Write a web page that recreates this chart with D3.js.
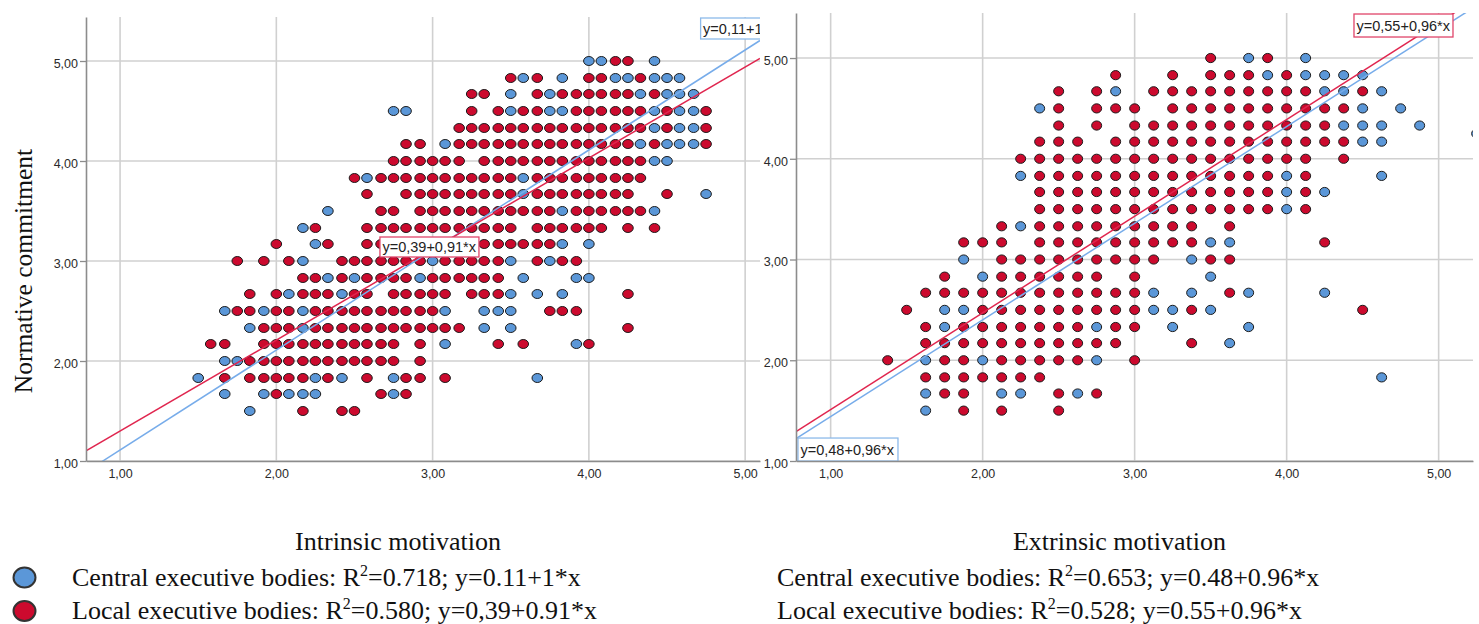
<!DOCTYPE html>
<html>
<head>
<meta charset="utf-8">
<script src="https://cdn.jsdelivr.net/npm/d3@7"></script>
<style>
    body { margin: 0; background: #fff; }
    svg { display: block; background: #fff; }
</style>
</head>
<body>
<svg id="chart" width="1479" height="624"></svg>
<script>
// tick values shared by both panels
var xTicks = [1, 2, 3, 4, 5];
var yTicks = [1, 2, 3, 4, 5];

// each row: [normative commitment, [motivation scores at that level]]
var intrinsicCentral = [
    [5.00, [4.00, 4.08, 4.42]],
    [4.83, [3.58, 3.83, 4.17, 4.25, 4.42, 4.50, 4.58]],
    [4.67, [3.50, 3.75, 4.33, 4.50, 4.58, 4.67]],
    [4.50, [2.75, 2.83, 3.50, 3.75, 3.83, 4.42, 4.58, 4.67]],
    [4.33, [4.42, 4.58, 4.67]],
    [4.17, [3.08, 4.33, 4.50, 4.58, 4.67]],
    [4.00, [4.42, 4.50]],
    [3.83, [2.58, 3.58]],
    [3.67, [3.58, 4.75]],
    [3.50, [2.33, 3.83, 4.42]],
    [3.33, [2.17]],
    [3.17, [2.25, 3.83, 4.00]],
    [3.00, [2.17, 3.00, 3.50, 3.75]],
    [2.83, [2.33, 2.50, 2.92, 3.58, 3.92, 4.00]],
    [2.67, [2.08, 2.42, 3.50, 3.67, 3.83]],
    [2.50, [1.67, 1.92, 2.17, 3.08, 3.33, 3.42, 3.50]],
    [2.33, [1.83, 2.17, 3.33, 3.50]],
    [2.17, [3.08, 3.92]],
    [2.00, [1.67, 1.75]],
    [1.83, [1.50, 2.25, 2.42, 2.75, 3.67]],
    [1.67, [1.67, 1.92, 2.08, 2.17, 2.25, 2.75]],
    [1.50, [1.83]]
];

var intrinsicLocal = [
    [5.00, [4.17, 4.25]],
    [4.83, [3.50, 3.67, 4.00, 4.08, 4.33]],
    [4.67, [3.25, 3.33, 3.67, 3.83, 3.92, 4.00, 4.08, 4.17, 4.25, 4.42]],
    [4.50, [3.25, 3.42, 3.58, 3.67, 3.92, 4.00, 4.08, 4.17, 4.25, 4.33, 4.50, 4.75]],
    [4.33, [3.17, 3.25, 3.33, 3.42, 3.50, 3.58, 3.67, 3.75, 3.83, 3.92, 4.00, 4.08, 4.17, 4.25, 4.33, 4.50, 4.75]],
    [4.17, [2.83, 2.92, 3.17, 3.25, 3.33, 3.42, 3.50, 3.58, 3.67, 3.75, 3.83, 3.92, 4.00, 4.08, 4.17, 4.25, 4.42, 4.75]],
    [4.00, [2.75, 2.83, 2.92, 3.00, 3.08, 3.17, 3.33, 3.42, 3.50, 3.58, 3.67, 3.75, 3.83, 3.92, 4.00, 4.08, 4.17, 4.25, 4.33]],
    [3.83, [2.50, 2.67, 2.75, 2.83, 2.92, 3.00, 3.08, 3.17, 3.25, 3.33, 3.42, 3.50, 3.67, 3.75, 3.83, 3.92, 4.00, 4.08, 4.17, 4.25, 4.33]],
    [3.67, [2.58, 2.83, 2.92, 3.00, 3.08, 3.17, 3.25, 3.33, 3.42, 3.50, 3.67, 3.75, 3.83, 3.92, 4.00, 4.08, 4.17, 4.25, 4.50]],
    [3.50, [2.67, 2.75, 2.92, 3.00, 3.08, 3.17, 3.25, 3.33, 3.42, 3.50, 3.58, 3.67, 3.75, 3.92, 4.00, 4.08, 4.17, 4.25, 4.33]],
    [3.33, [2.25, 2.58, 2.67, 2.75, 2.83, 2.92, 3.00, 3.08, 3.17, 3.25, 3.33, 3.42, 3.50, 3.67, 3.75, 3.83, 3.92, 4.00, 4.08, 4.25, 4.42]],
    [3.17, [2.00, 2.33, 2.58, 2.67, 2.75, 2.83, 2.92, 3.00, 3.08, 3.17, 3.25, 3.33, 3.42, 3.50, 3.58, 3.67, 3.75]],
    [3.00, [1.75, 1.92, 2.08, 2.42, 2.50, 2.58, 2.67, 2.75, 2.83, 2.92, 3.08, 3.17, 3.25, 3.33, 3.42, 3.67, 3.83, 3.92]],
    [2.83, [2.17, 2.25, 2.42, 2.58, 2.67, 2.75, 2.83, 3.00, 3.08, 3.17, 3.25, 3.33, 3.42]],
    [2.67, [1.83, 2.00, 2.17, 2.25, 2.33, 2.50, 2.58, 2.75, 2.83, 2.92, 3.00, 3.08, 3.25, 3.33, 3.42, 4.25]],
    [2.50, [1.75, 1.83, 2.00, 2.08, 2.25, 2.33, 2.42, 2.50, 2.58, 2.67, 2.75, 2.83, 2.92, 3.00, 3.75, 3.83, 3.92]],
    [2.33, [1.92, 2.00, 2.08, 2.25, 2.33, 2.42, 2.50, 2.58, 2.67, 2.75, 2.83, 2.92, 3.00, 3.08, 3.17, 4.25]],
    [2.17, [1.58, 1.67, 1.92, 2.00, 2.08, 2.17, 2.25, 2.33, 2.42, 2.50, 2.58, 2.67, 2.75, 2.92, 3.42, 3.58, 4.00]],
    [2.00, [1.83, 1.92, 2.00, 2.08, 2.17, 2.25, 2.33, 2.42, 2.50, 2.58, 2.67, 2.75, 2.92]],
    [1.83, [1.67, 1.83, 1.92, 2.00, 2.08, 2.17, 2.33, 2.58, 2.83, 2.92, 3.08]],
    [1.67, [2.00, 2.67, 2.83]],
    [1.50, [2.17, 2.42, 2.50]]
];

var extrinsicCentral = [
    [5.00, [3.75, 4.125]],
    [4.83, [3.875, 4.125, 4.25, 4.375, 4.5]],
    [4.67, [2.875, 4.25, 4.375, 4.625]],
    [4.50, [2.375, 4.5, 4.75]],
    [4.33, [4.375, 4.5, 4.625, 4.875]],
    [4.25, [5.25]],
    [4.17, [4.5, 4.625]],
    [3.83, [2.25, 4.0, 4.625]],
    [3.67, [4.0, 4.25]],
    [3.50, [4.0]],
    [3.33, [2.25]],
    [3.17, [3.5, 3.625]],
    [3.00, [1.875, 3.375]],
    [2.83, [2.0, 3.5]],
    [2.67, [3.125, 3.375, 3.75, 4.25]],
    [2.50, [1.75, 1.875, 3.125, 3.25, 3.5]],
    [2.33, [1.75, 2.75, 3.25, 3.75]],
    [2.17, [3.625]],
    [2.00, [1.625, 2.0, 2.75]],
    [1.83, [4.625]],
    [1.67, [1.625, 2.125, 2.25, 2.625]],
    [1.50, [1.625]]
];

var extrinsicLocal = [
    [5.00, [3.5, 3.875]],
    [4.83, [2.875, 3.25, 3.5, 3.625, 3.75, 4.0]],
    [4.67, [2.5, 2.75, 3.125, 3.25, 3.375, 3.5, 3.625, 3.75, 3.875, 4.0, 4.125, 4.5]],
    [4.50, [2.5, 2.75, 2.875, 3.0, 3.25, 3.375, 3.5, 3.625, 3.75, 3.875, 4.0, 4.125, 4.25, 4.375]],
    [4.33, [2.5, 2.75, 3.0, 3.125, 3.25, 3.375, 3.5, 3.625, 3.75, 3.875, 4.0, 4.125, 4.25]],
    [4.17, [2.375, 2.5, 2.625, 2.875, 3.0, 3.125, 3.25, 3.375, 3.5, 3.625, 3.75, 3.875, 4.0, 4.125, 4.25, 4.375]],
    [4.00, [2.25, 2.375, 2.5, 2.625, 2.75, 2.875, 3.0, 3.125, 3.25, 3.375, 3.5, 3.625, 3.75, 3.875, 4.0, 4.125, 4.375]],
    [3.83, [2.375, 2.5, 2.625, 2.75, 2.875, 3.0, 3.125, 3.25, 3.375, 3.5, 3.625, 3.75, 3.875, 4.125]],
    [3.67, [2.375, 2.5, 2.625, 2.75, 2.875, 3.0, 3.125, 3.25, 3.375, 3.5, 3.625, 3.75, 3.875, 4.125]],
    [3.50, [2.375, 2.5, 2.625, 2.75, 2.875, 3.0, 3.125, 3.25, 3.375, 3.5, 3.625, 3.75, 3.875, 4.125]],
    [3.33, [2.125, 2.375, 2.5, 2.625, 2.75, 2.875, 3.0, 3.125, 3.25, 3.375, 3.625]],
    [3.17, [1.875, 2.0, 2.125, 2.375, 2.5, 2.625, 2.75, 2.875, 3.0, 3.125, 3.25, 3.375, 4.25]],
    [3.00, [2.125, 2.25, 2.375, 2.5, 2.625, 2.75, 2.875, 3.0, 3.125, 3.5, 3.625]],
    [2.83, [1.75, 2.125, 2.25, 2.375, 2.5, 2.625, 2.75, 3.0]],
    [2.67, [1.625, 1.75, 1.875, 2.0, 2.125, 2.25, 2.375, 2.5, 2.625, 2.75, 2.875, 3.0, 3.625]],
    [2.50, [1.5, 2.0, 2.125, 2.25, 2.375, 2.5, 2.625, 2.75, 2.875, 3.0, 3.375, 4.5]],
    [2.33, [1.625, 1.875, 2.0, 2.125, 2.25, 2.375, 2.5, 2.625, 2.875, 3.0]],
    [2.17, [1.625, 1.75, 1.875, 2.0, 2.125, 2.25, 2.375, 2.5, 2.625, 2.75, 2.875, 3.375]],
    [2.00, [1.375, 1.75, 1.875, 2.125, 2.25, 2.375, 2.5, 2.625, 3.0]],
    [1.83, [1.625, 1.75, 1.875, 2.0, 2.125, 2.25, 2.375]],
    [1.67, [1.75, 1.875, 2.5, 2.75]],
    [1.50, [1.875, 2.125, 2.5]]
];

// regression fits: intercept, slope
var intrinsicFits = [[0.11, 1.00], [0.39, 0.91]];
var extrinsicFits = [[0.48, 0.96], [0.55, 0.96]];
var intrinsicFitLabels = ['y=0,11+1*x', 'y=0,39+0,91*x'];
var extrinsicFitLabels = ['y=0,48+0,96*x', 'y=0,55+0,96*x'];

var axisTitles = ['Intrinsic motivation', 'Extrinsic motivation'];
var yTitle = 'Normative commitment';
var groupNames = ['Central executive bodies', 'Local executive bodies'];
var intrinsicR2 = ['0.718', '0.580'];
var extrinsicR2 = ['0.653', '0.528'];
var intrinsicEq = ['y=0.11+1*x', 'y=0,39+0.91*x'];
var extrinsicEq = ['y=0.48+0.96*x', 'y=0.55+0.96*x'];

var groupColors = ['#5b97d8', '#cc0a2e'];
var lineColors = ['#77acea', '#e0264f'];
var boxColors = ['#8dbaea', '#e0456a'];

var fmt = function (d) { return d3.format('.2f')(d).replace('.', ','); };

var svg = d3.select('#chart');

/**
 * One scatter panel with its grid, points, fit lines and axes
 */
function ScatterPanel(svg, cfg) {
    var self = this;
    self.svg = svg;
    self.cfg = cfg;
}

ScatterPanel.prototype.init = function () {
    var self = this;
    var c = self.cfg;

    self.x = d3.scaleLinear().domain(c.xDomain).range([c.left, c.right]);
    self.y = d3.scaleLinear().domain(c.yDomain).range([c.bottom, c.top]);

    self.g = self.svg.append('g').attr('class', 'panel-' + c.id);

    self.g.append('clipPath')
        .attr('id', c.id + '-clip')
        .append('rect')
        .attr('x', c.left)
        .attr('y', c.top)
        .attr('width', c.right - c.left)
        .attr('height', c.bottom - c.top);

    self.drawGrid();
    self.drawPoints();
    self.drawFits();
    self.drawAxes();
    self.drawLegend();
};

ScatterPanel.prototype.drawGrid = function () {
    var self = this;
    var c = self.cfg;
    var grid = self.g.append('g').attr('class', 'grid');

    grid.selectAll('.vgrid').data(xTicks).enter().append('line')
        .attr('class', 'vgrid')
        .attr('x1', function (d) { return self.x(d); })
        .attr('x2', function (d) { return self.x(d); })
        .attr('y1', c.top)
        .attr('y2', c.bottom)
        .attr('stroke', '#d0d0d0')
        .attr('stroke-width', 1.6);

    grid.selectAll('.hgrid').data(yTicks).enter().append('line')
        .attr('class', 'hgrid')
        .attr('x1', c.left)
        .attr('x2', c.right)
        .attr('y1', function (d) { return self.y(d); })
        .attr('y2', function (d) { return self.y(d); })
        .attr('stroke', '#d0d0d0')
        .attr('stroke-width', 1.6);
};

ScatterPanel.prototype.drawPoints = function () {
    var self = this;
    var c = self.cfg;
    var pts = [];
    c.series.forEach(function (rows, i) {
        rows.forEach(function (row) {
            row[1].forEach(function (x) {
                pts.push({x: x, y: row[0], group: i});
            });
        });
    });

    self.plot = self.g.append('g').attr('clip-path', 'url(#' + c.id + '-clip)');

    self.plot.selectAll('ellipse').data(pts).enter().append('ellipse')
        .attr('cx', function (d) { return self.x(d.x); })
        .attr('cy', function (d) { return self.y(d.y); })
        .attr('rx', c.rx)
        .attr('ry', c.ry)
        .attr('fill', function (d) { return groupColors[d.group]; })
        .attr('stroke', '#1c1c1c')
        .attr('stroke-width', 1);
};

ScatterPanel.prototype.drawFits = function () {
    var self = this;
    var c = self.cfg;
    var x0 = c.xDomain[0], x1 = c.xDomain[1];
    var line = d3.line()
        .x(function (d) { return self.x(d[0]); })
        .y(function (d) { return self.y(d[1]); });

    self.plot.selectAll('.fit').data(c.fits).enter().append('path')
        .attr('class', 'fit')
        .attr('d', function (f) { return line([[x0, f[0] + f[1] * x0], [x1, f[0] + f[1] * x1]]); })
        .attr('fill', 'none')
        .attr('stroke', function (f, i) { return lineColors[i]; })
        .attr('stroke-width', 1.5);

    // equation boxes, anchored in data space
    var box = self.plot.selectAll('.fitbox').data(c.boxes).enter().append('g')
        .attr('class', 'fitbox')
        .attr('transform', function (b) { return 'translate(' + self.x(b.x) + ',' + self.y(b.y) + ')'; });

    box.append('rect')
        .attr('width', function (b) { return b.w; })
        .attr('height', function (b) { return b.h; })
        .attr('fill', '#fff')
        .attr('stroke', function (b) { return boxColors[b.group]; })
        .attr('stroke-width', 1.3);

    box.append('text')
        .attr('x', 2.5)
        .attr('y', function (b) { return b.h / 2 + 5.2; })
        .attr('font-family', 'Liberation Sans, Arial, sans-serif')
        .attr('font-size', 14.5)
        .attr('fill', '#222')
        .text(function (b) { return c.fitLabels[b.group]; });
};

ScatterPanel.prototype.drawAxes = function () {
    var self = this;
    var c = self.cfg;

    var yAxis = d3.axisLeft(self.y)
        .tickValues(yTicks)
        .tickFormat(fmt)
        .tickSize(6)
        .tickSizeOuter(0)
        .tickPadding(2);

    var xAxis = d3.axisBottom(self.x)
        .tickValues(xTicks)
        .tickFormat(fmt)
        .tickSize(0)
        .tickSizeOuter(0)
        .tickPadding(8);

    var ya = self.g.append('g')
        .attr('transform', 'translate(' + c.left + ',0)')
        .call(yAxis);
    var xa = self.g.append('g')
        .attr('transform', 'translate(0,' + c.bottom + ')')
        .call(xAxis);

    [ya, xa].forEach(function (a) {
        a.select('.domain').attr('stroke', '#8c8c8c').attr('stroke-width', 1.6);
        a.selectAll('.tick line').attr('stroke', '#8c8c8c').attr('stroke-width', 1.3);
        a.selectAll('.tick text')
            .attr('font-family', 'Liberation Sans, Arial, sans-serif')
            .attr('font-size', 12.5)
            .attr('fill', '#2a2a2a');
    });
    ya.selectAll('.tick text').attr('dy', '0.5em');
};

ScatterPanel.prototype.drawLegend = function () {
    var self = this;
    var c = self.cfg;
    var serif = 'Liberation Serif, Times New Roman, serif';

    self.g.append('text')
        .attr('x', (c.left + c.right) / 2 + c.titleShift)
        .attr('y', 550)
        .attr('text-anchor', 'middle')
        .attr('font-family', serif)
        .attr('font-size', 26)
        .attr('fill', '#111')
        .text(c.title);

    var rows = self.g.selectAll('.legend-row').data(groupNames).enter().append('text')
        .attr('class', 'legend-row')
        .attr('x', c.legendX)
        .attr('y', function (d, i) { return 585.5 + i * 33; })
        .attr('font-family', serif)
        .attr('font-size', 26)
        .attr('fill', '#111');

    rows.append('tspan').text(function (d) { return d + ': R'; });
    rows.append('tspan').attr('dy', -10).attr('font-size', 16).text('2');
    rows.append('tspan').attr('dy', 10)
        .text(function (d, i) { return '=' + c.r2[i] + '; ' + c.eq[i]; });

    if (c.markers) {
        self.g.selectAll('.legend-marker').data(groupNames).enter().append('ellipse')
            .attr('class', 'legend-marker')
            .attr('cx', 24.5)
            .attr('cy', function (d, i) { return 577.5 + i * 33.5; })
            .attr('rx', 11)
            .attr('ry', 10)
            .attr('fill', function (d, i) { return groupColors[i]; })
            .attr('stroke', '#333')
            .attr('stroke-width', 2);
    }
};

var left = new ScatterPanel(svg, {
    id: 'intrinsic',
    left: 86, right: 760, top: 17, bottom: 461,
    xDomain: [0.782, 5.095], yDomain: [1, 5.44],
    rx: 5.3, ry: 4.5,
    series: [intrinsicCentral, intrinsicLocal],
    fits: intrinsicFits,
    fitLabels: intrinsicFitLabels,
    boxes: [
        {group: 1, x: 2.663, y: 3.24, w: 99, h: 20},
        {group: 0, x: 4.715, y: 5.43, w: 100, h: 21}
    ],
    title: axisTitles[0], titleShift: -25,
    legendX: 72, r2: intrinsicR2, eq: intrinsicEq, markers: true
});
left.init();

var right = new ScatterPanel(svg, {
    id: 'extrinsic',
    left: 796, right: 1473, top: 13, bottom: 461,
    xDomain: [0.772, 5.226], yDomain: [1, 5.447],
    rx: 5, ry: 4.6,
    series: [extrinsicCentral, extrinsicLocal],
    fits: extrinsicFits,
    fitLabels: extrinsicFitLabels,
    boxes: [
        {group: 1, x: 4.443, y: 5.437, w: 99, h: 23},
        {group: 0, x: 0.785, y: 1.228, w: 100, h: 23}
    ],
    title: axisTitles[1], titleShift: -15,
    legendX: 777, r2: extrinsicR2, eq: extrinsicEq, markers: false
});
right.init();

svg.append('text')
    .attr('transform', 'translate(32,271) rotate(-90)')
    .attr('text-anchor', 'middle')
    .attr('font-family', 'Liberation Serif, Times New Roman, serif')
    .attr('font-size', 25.5)
    .attr('fill', '#111')
    .text(yTitle);
</script>
</body>
</html>
